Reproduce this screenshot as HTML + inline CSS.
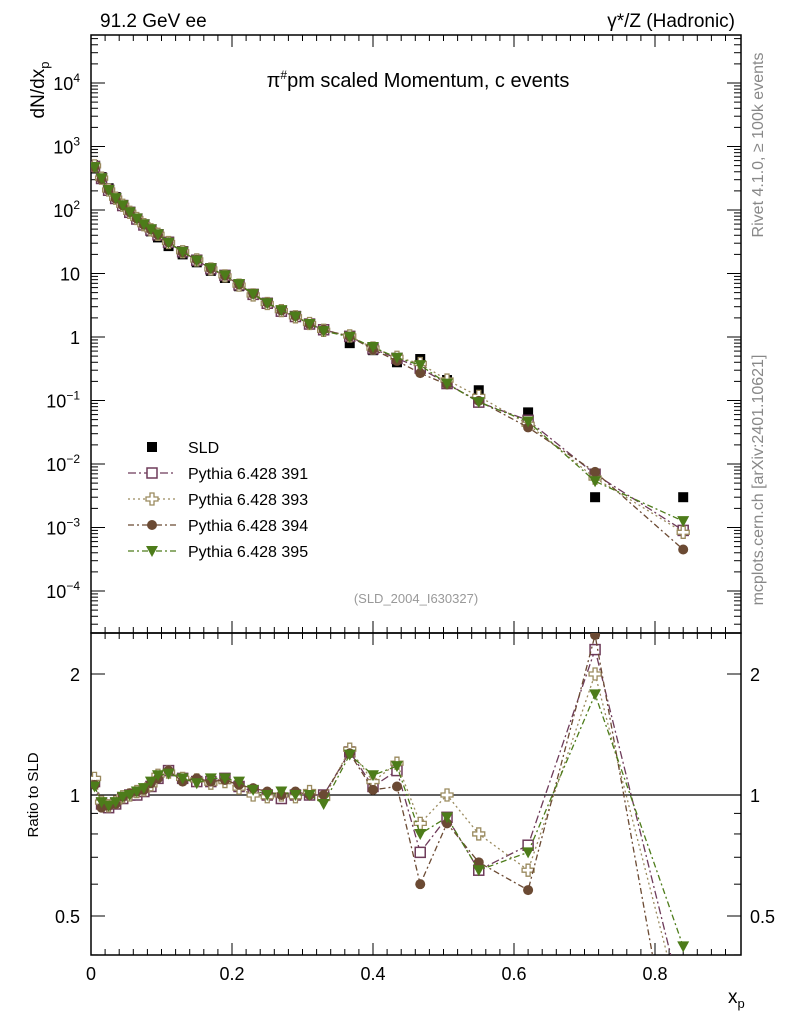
<!DOCTYPE html>
<html><head><meta charset="utf-8"><style>
html,body{margin:0;padding:0;width:786px;height:1024px;background:#fff;overflow:hidden;font-family:"Liberation Sans",sans-serif}
svg{display:block}
svg text{font-family:"Liberation Sans","DejaVu Sans",sans-serif}
</style></head><body>
<svg id="c" width="786" height="1024" viewBox="0 0 786 1024" xmlns="http://www.w3.org/2000/svg">
<text x="100" y="27" font-size="19">91.2 GeV ee</text>
<text x="735" y="27" font-size="19" text-anchor="end">γ*/Z (Hadronic)</text>
<text x="418" y="87" font-size="20" text-anchor="middle">π<tspan font-size="12" dy="-8">#</tspan><tspan dy="8">pm scaled Momentum, c events</tspan></text>
<text transform="translate(44,90) rotate(-90)" font-size="19" text-anchor="middle">dN/dx<tspan font-size="13" dy="5">p</tspan></text>
<text transform="translate(38,795) rotate(-90)" font-size="15" text-anchor="middle">Ratio to SLD</text>
<text x="728" y="1003" font-size="19">x<tspan font-size="13" dy="5">p</tspan></text>
<text transform="translate(763,145) rotate(-90)" font-size="16" fill="#888" text-anchor="middle">Rivet 4.1.0, ≥ 100k events</text>
<text transform="translate(763,480) rotate(-90)" font-size="16" fill="#888" text-anchor="middle">mcplots.cern.ch [arXiv:2401.10621]</text>
<text x="416" y="603" font-size="13" fill="#999" text-anchor="middle">(SLD_2004_I630327)</text>
<g id="g"></g>
</svg>
<script>
const xs=[0.005,0.015,0.025,0.035,0.045,0.055,0.065,0.075,0.085,0.095,0.11,0.13,0.15,0.17,0.19,0.21,0.23,0.25,0.27,0.29,0.31,0.33,0.367,0.40,0.434,0.467,0.505,0.55,0.62,0.715,0.84];
const sld=[450,330,220,160,120,92,72,57,46,37,27,20,15,11,8.5,6.3,4.6,3.4,2.6,2.1,1.6,1.3,0.8,0.62,0.4,0.45,0.21,0.145,0.065,0.003,0.003];
const r391=[1.08,0.95,0.93,0.95,0.98,1.0,1.0,1.02,1.05,1.1,1.15,1.1,1.08,1.08,1.1,1.05,1.02,1.0,0.98,1.0,1.0,1.0,1.28,1.05,1.15,0.72,0.88,0.65,0.75,2.3,0.3];
const r393=[1.1,0.96,0.94,0.96,0.99,1.0,1.02,1.03,1.06,1.12,1.14,1.1,1.09,1.07,1.08,1.04,1.0,0.99,1.0,0.99,1.02,0.98,1.3,1.08,1.2,0.85,1.0,0.8,0.65,2.0,0.28];
const r394=[1.06,0.93,0.94,0.95,0.99,1.01,1.02,1.03,1.07,1.1,1.15,1.08,1.1,1.08,1.09,1.06,1.04,1.02,1.0,1.02,1.0,1.0,1.27,1.03,1.05,0.6,0.85,0.68,0.58,2.5,0.15];
const r395=[1.05,0.96,0.94,0.96,0.99,1.0,1.02,1.04,1.08,1.12,1.13,1.1,1.07,1.1,1.1,1.08,1.03,1.0,1.02,1.0,1.0,0.95,1.26,1.12,1.18,0.8,0.88,0.65,0.72,1.78,0.42];
const xTicks=[0,0.2,0.4,0.6,0.8];
const NS='http://www.w3.org/2000/svg',g=document.getElementById('g');
const L=91,R=741,T=35,M=633,B=955;
const X=v=>L+v*705;
const Y=v=>337-Math.log10(v)*63.5;
const RY=v=>795-Math.log2(v)*121;
function mk(t,a,p){const e=document.createElementNS(NS,t);for(const k in a)e.setAttribute(k,a[k]);(p||g).appendChild(e);return e;}
// clip polyline points to y range [y0,y1]
function clipPts(pts,y0,y1){const out=[];
 for(let i=0;i<pts.length;i++){const [x,y]=pts[i];
  if(i>0){const [px,py]=pts[i-1];
   for(const lim of [y0,y1]){if((py-lim)*(y-lim)<0){const t=(lim-py)/(y-py);out.push([px+t*(x-px),lim,1]);}}}
  if(y>=y0&&y<=y1)out.push([x,y,0]);}
 out.sort((a,b)=>a[0]-b[0]);return out;}
let e=mk('rect',{x:L,y:T,width:R-L,height:M-T,fill:'none',stroke:'#000','stroke-width':1.5});

e=mk('rect',{x:L,y:M,width:R-L,height:B-M,fill:'none',stroke:'#000','stroke-width':1.5});

e=mk('line',{x1:L,x2:R,y1:RY(1),y2:RY(1),stroke:'#000','stroke-width':1.2});

for(let v=0;v<=0.92;v+=0.02){const big=Math.abs(v*10-Math.round(v*10))<1e-6&&Math.round(v*10)%2==0;const len=big?12:6;
 for(const [a,b] of [[M,M-len],[T,T+len],[B,B-len],[M,M+len]])mk('line',{x1:X(v),x2:X(v),y1:a,y2:b,stroke:'#000'});}
xTicks.forEach(v=>{const t=mk('text',{x:X(v),y:980,'font-size':18,'text-anchor':'middle'});t.textContent=v==0?'0':v.toFixed(1);
 });
const ylab={4:'10<tspan font-size="12" dy="-8">4</tspan>',3:'10<tspan font-size="12" dy="-8">3</tspan>',2:'10<tspan font-size="12" dy="-8">2</tspan>',1:'10',0:'1',"-1":'10<tspan font-size="12" dy="-8">−1</tspan>',"-2":'10<tspan font-size="12" dy="-8">−2</tspan>',"-3":'10<tspan font-size="12" dy="-8">−3</tspan>',"-4":'10<tspan font-size="12" dy="-8">−4</tspan>'};
for(let d=-5;d<=4;d++){for(let m=1;m<10;m++){const y=Y(m*Math.pow(10,d));if(y<T||y>M)continue;const len=m==1?14:7;
 mk('line',{x1:L,x2:L+len,y1:y,y2:y,stroke:'#000'});mk('line',{x1:R,x2:R-len,y1:y,y2:y,stroke:'#000'});}
 if(ylab[d]!==undefined){const t=mk('text',{x:80,y:Y(Math.pow(10,d))+7,'font-size':18,'text-anchor':'end'});t.innerHTML=ylab[d];
 }}
[0.4,0.5,0.6,0.7,0.8,0.9,1,2].forEach(v=>{const len=(v==1||v==2||v==0.5)?14:7;const y=RY(v);
 mk('line',{x1:L,x2:L+len,y1:y,y2:y,stroke:'#000'});mk('line',{x1:R,x2:R-len,y1:y,y2:y,stroke:'#000'});});
[[2,'2'],[1,'1'],[0.5,'0.5']].forEach(([v,s])=>{for(const [x,a] of [[80,'end'],[750,'start']]){const t=mk('text',{x:x,y:RY(v)+7,'font-size':18,'text-anchor':a});t.textContent=s;
 }});
const defs=mk('defs',{});
const c1=mk('clipPath',{id:'cm'},defs);mk('rect',{x:L,y:T,width:R-L,height:M-T},c1);
const c2=mk('clipPath',{id:'cr'},defs);mk('rect',{x:L,y:M,width:R-L,height:B-M},c2);
const gm=mk('g',{'clip-path':'url(#cm)'}),gr=mk('g',{'clip-path':'url(#cr)'});
function marker(p,type,col,x,y){
 if(type=='sq')return mk('rect',{x:x-5,y:y-5,width:10,height:10,fill:'#fff',stroke:col,'stroke-width':1.5},p);
 if(type=='cross')return mk('path',{d:`M${x-2},${y-6}h4v4h4v4h-4v4h-4v-4h-4v-4h4z`,fill:'#fff',stroke:col,'stroke-width':1.3},p);
 if(type=='circ')return mk('circle',{cx:x,cy:y,r:5,fill:col},p);
 return mk('path',{d:`M${x-6},${y-5}h12l-6,11z`,fill:col},p);
}
xs.forEach((x,i)=>{const m=mk('rect',{x:X(x)-5,y:Y(sld[i])-5,width:10,height:10,fill:'#000'},gm);
 });
const series=[['pythia-391',r391,'#6e3b5a','sq','8,3,2,3'],['pythia-393',r393,'#9a8a5e','cross','2,3'],['pythia-394',r394,'#6b4a33','circ','6,3,2,3'],['pythia-395',r395,'#4d7c1a','tri','6,3,2,3']];
series.forEach(([name,r,col,type,da])=>{
 const pm=xs.map((x,i)=>X(x)+','+Y(sld[i]*r[i])).join(' ');
 let pl=mk('polyline',{points:pm,fill:'none',stroke:col,'stroke-width':1.3,'stroke-dasharray':da},gm);
 
 const raw=xs.map((x,i)=>[X(x),RY(r[i])]);
 const cp=clipPts(raw,M,B);
 pl=mk('polyline',{points:cp.map(p=>p[0]+','+p[1]).join(' '),fill:'none',stroke:col,'stroke-width':1.3,'stroke-dasharray':da},gr);
 
 xs.forEach((x,i)=>{let m=marker(gm,type,col,X(x),Y(sld[i]*r[i]));
  
  const ry=RY(r[i]);
  if(ry>=M-6&&ry<=B+6){m=marker(gr,type,col,X(x),ry);
  }});
});
const leg=[['SLD','#000','sld',null],['Pythia 6.428 391','#6e3b5a','sq','8,3,2,3'],['Pythia 6.428 393','#9a8a5e','cross','2,3'],['Pythia 6.428 394','#6b4a33','circ','6,3,2,3'],['Pythia 6.428 395','#4d7c1a','tri','6,3,2,3']];
leg.forEach(([lab,col,type,da],i)=>{const y=447+i*26;
 if(da){mk('line',{x1:128,x2:176,y1:y,y2:y,stroke:col,'stroke-width':1.3,'stroke-dasharray':da});}
 let m=type=='sld'?mk('rect',{x:147,y:y-5,width:10,height:10,fill:'#000'}):marker(g,type,col,152,y);
 
 const t=mk('text',{x:188,y:y+6,'font-size':16});t.textContent=lab;
 });
</script>
</body></html>
